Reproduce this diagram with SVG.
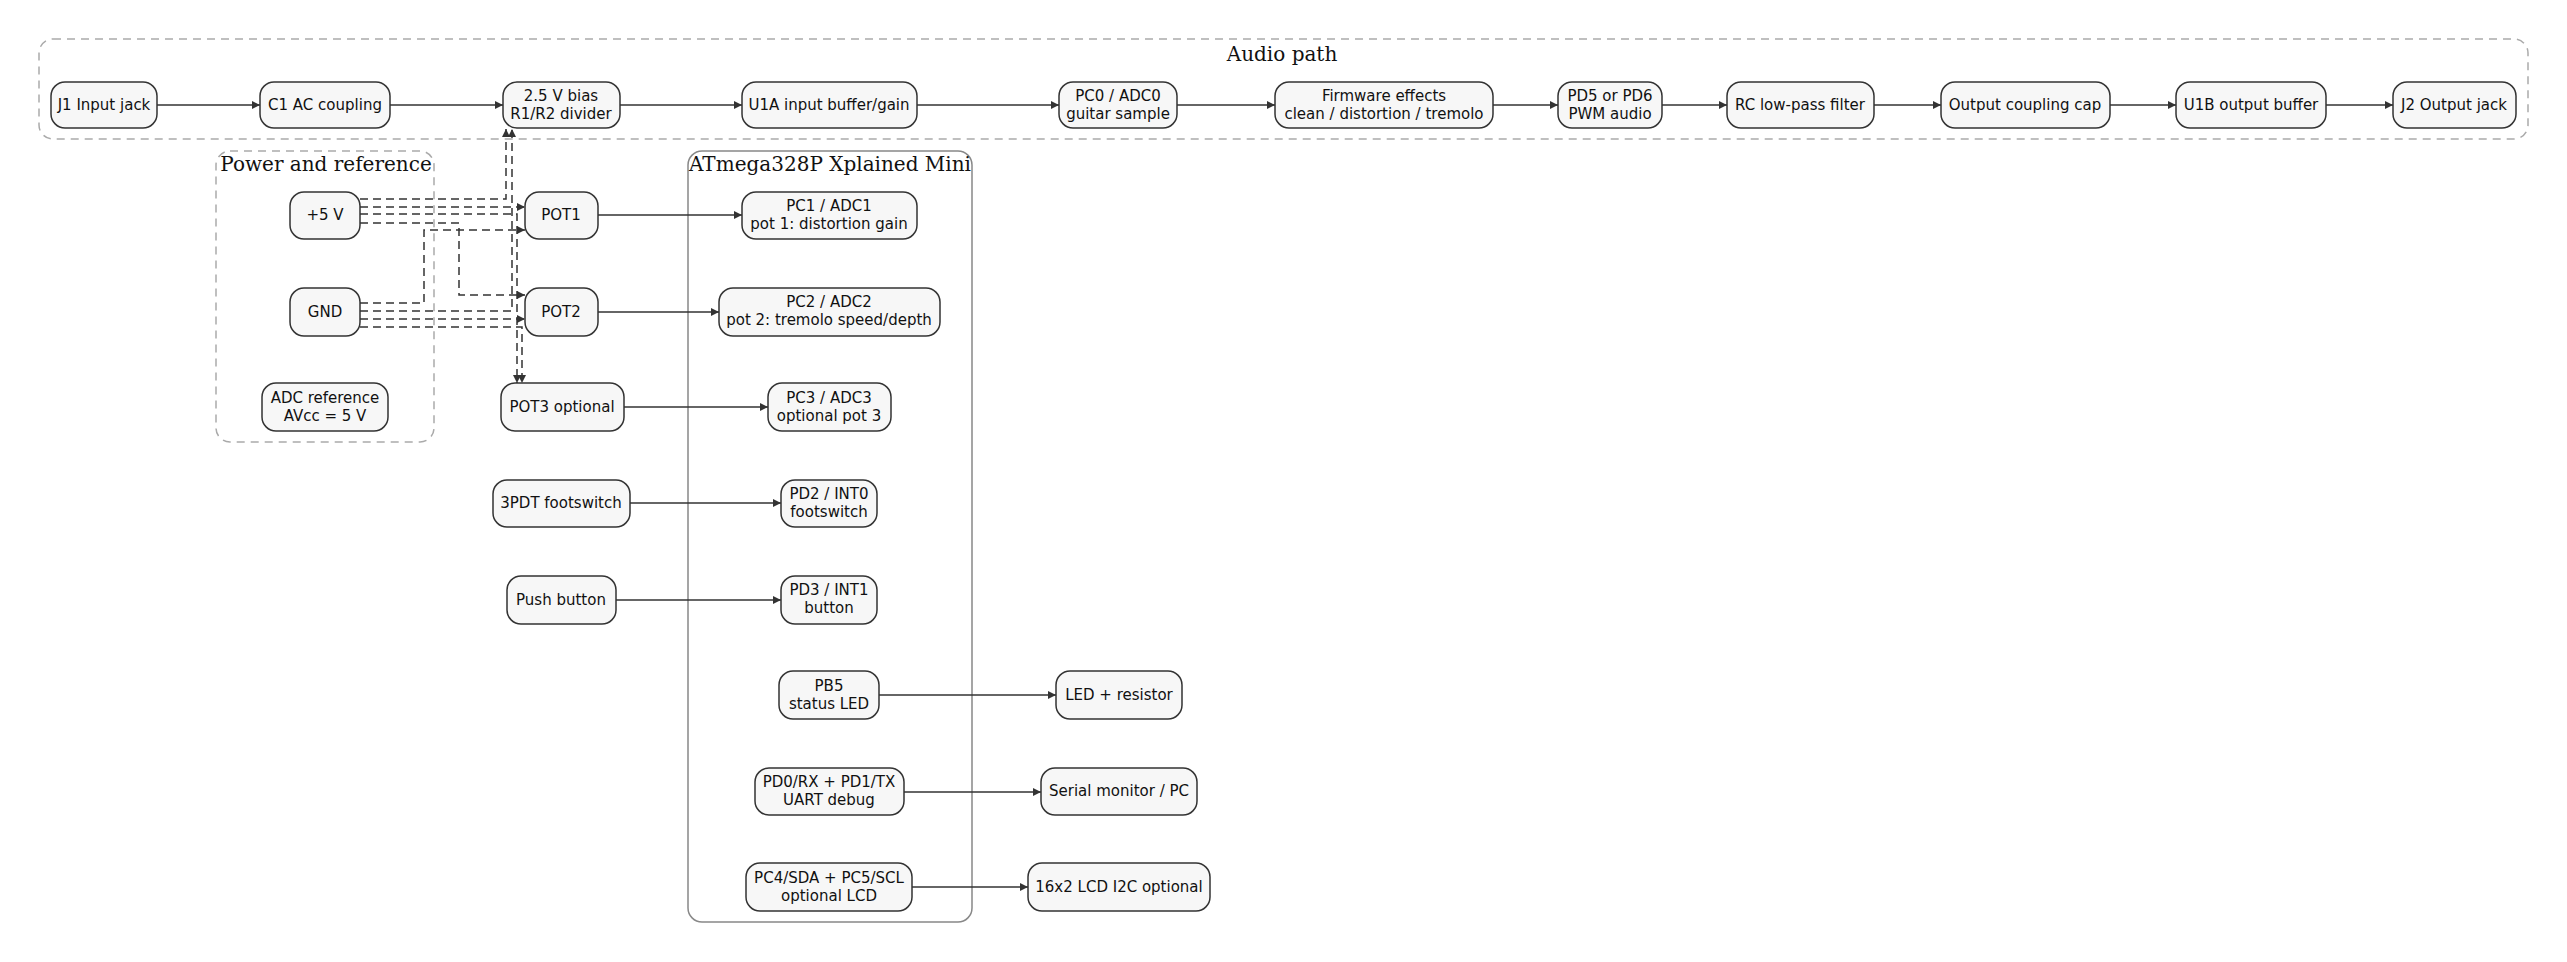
<svg xmlns="http://www.w3.org/2000/svg" width="2567" height="962" viewBox="0 0 2567 962">
<style>
.n{fill:#f7f7f7;stroke:#333;stroke-width:1.5}
.t{font-family:"DejaVu Sans",sans-serif;font-size:15px;fill:#111;text-anchor:middle}
.ct{font-family:"DejaVu Serif",serif;font-size:20px;fill:#111;text-anchor:middle}
.cl{fill:none;stroke:#aaa;stroke-width:1.5;stroke-dasharray:8,6}
.e{fill:none;stroke:#333;stroke-width:1.5;marker-end:url(#a)}
.d{fill:none;stroke:#333;stroke-width:1.5;stroke-dasharray:8,5;marker-end:url(#a)}
</style>
<defs><marker id="a" viewBox="0 0 10 10" refX="10" refY="5" markerWidth="8" markerHeight="8" markerUnits="userSpaceOnUse" orient="auto"><path d="M0,0L10,5L0,10z" fill="#333"/></marker></defs>
<rect width="2567" height="962" fill="#fff"/>
<g id="clusters">
<rect class="cl" x="39" y="39" width="2489" height="100" rx="14"/>
<text class="ct" x="1282" y="61">Audio path</text>
<rect class="cl" x="216" y="151" width="218" height="291" rx="14"/>
<text class="ct" x="326" y="171">Power and reference</text>
<rect x="688" y="151" width="284" height="771" rx="14" fill="none" stroke="#888" stroke-width="1.5"/>
<text class="ct" x="830" y="171">ATmega328P Xplained Mini</text>
</g>
<g id="edges">
<path class="e" d="M157,105H260"/><path class="e" d="M390,105H503"/><path class="e" d="M620,105H742"/><path class="e" d="M917,105H1059"/><path class="e" d="M1177,105H1275"/><path class="e" d="M1493,105H1558"/><path class="e" d="M1662,105H1727"/><path class="e" d="M1874,105H1941"/><path class="e" d="M2110,105H2176"/><path class="e" d="M2326,105H2393"/>
<path class="d" d="M360,199H506V129"/><path class="d" d="M360,311H512V129"/>
<path class="d" d="M360,207H525"/><path class="d" d="M360,303H424V230H525"/>
<path class="d" d="M360,223H459V295H525"/><path class="d" d="M360,319H525"/>
<path class="d" d="M360,214H517V383"/><path class="d" d="M360,327H522V383"/>
<path class="e" d="M598,215H742"/><path class="e" d="M598,312H719"/><path class="e" d="M624,407H768"/><path class="e" d="M630,503H781"/><path class="e" d="M616,600H781"/><path class="e" d="M879,695H1056"/><path class="e" d="M904,792H1041"/><path class="e" d="M912,887H1028"/>
</g>
<g id="j1"><rect class="n" x="51" y="82" width="106" height="46" rx="14"/><text class="t" x="104" y="110">J1 Input jack</text></g>
<g id="c1"><rect class="n" x="260" y="82" width="130" height="46" rx="14"/><text class="t" x="325" y="110">C1 AC coupling</text></g>
<g id="bias"><rect class="n" x="503" y="82" width="117" height="46" rx="14"/><text class="t" x="561" y="101">2.5 V bias</text><text class="t" x="561" y="119">R1/R2 divider</text></g>
<g id="u1a"><rect class="n" x="742" y="82" width="175" height="46" rx="14"/><text class="t" x="829" y="110">U1A input buffer/gain</text></g>
<g id="pc0"><rect class="n" x="1059" y="82" width="118" height="46" rx="14"/><text class="t" x="1118" y="101">PC0 / ADC0</text><text class="t" x="1118" y="119">guitar sample</text></g>
<g id="fw"><rect class="n" x="1275" y="82" width="218" height="46" rx="14"/><text class="t" x="1384" y="101">Firmware effects</text><text class="t" x="1384" y="119">clean / distortion / tremolo</text></g>
<g id="pwm"><rect class="n" x="1558" y="82" width="104" height="46" rx="14"/><text class="t" x="1610" y="101">PD5 or PD6</text><text class="t" x="1610" y="119">PWM audio</text></g>
<g id="rc"><rect class="n" x="1727" y="82" width="147" height="46" rx="14"/><text class="t" x="1800" y="110">RC low-pass filter</text></g>
<g id="occ"><rect class="n" x="1941" y="82" width="169" height="46" rx="14"/><text class="t" x="2025" y="110">Output coupling cap</text></g>
<g id="u1b"><rect class="n" x="2176" y="82" width="150" height="46" rx="14"/><text class="t" x="2251" y="110">U1B output buffer</text></g>
<g id="j2"><rect class="n" x="2393" y="82" width="123" height="46" rx="14"/><text class="t" x="2454" y="110">J2 Output jack</text></g>
<g id="v5"><rect class="n" x="290" y="192" width="70" height="47" rx="14"/><text class="t" x="325" y="220">+5 V</text></g>
<g id="gnd"><rect class="n" x="290" y="288" width="70" height="48" rx="14"/><text class="t" x="325" y="317">GND</text></g>
<g id="adcref"><rect class="n" x="262" y="383" width="126" height="48" rx="14"/><text class="t" x="325" y="403">ADC reference</text><text class="t" x="325" y="421">AVcc = 5 V</text></g>
<g id="pot1"><rect class="n" x="525" y="192" width="73" height="47" rx="14"/><text class="t" x="561" y="220">POT1</text></g>
<g id="pot2"><rect class="n" x="525" y="288" width="73" height="48" rx="14"/><text class="t" x="561" y="317">POT2</text></g>
<g id="pot3"><rect class="n" x="501" y="383" width="123" height="48" rx="14"/><text class="t" x="562" y="412">POT3 optional</text></g>
<g id="fs"><rect class="n" x="493" y="480" width="137" height="47" rx="14"/><text class="t" x="561" y="508">3PDT footswitch</text></g>
<g id="pb"><rect class="n" x="507" y="576" width="109" height="48" rx="14"/><text class="t" x="561" y="605">Push button</text></g>
<g id="pc1"><rect class="n" x="742" y="192" width="175" height="47" rx="14"/><text class="t" x="829" y="211">PC1 / ADC1</text><text class="t" x="829" y="229">pot 1: distortion gain</text></g>
<g id="pc2"><rect class="n" x="719" y="288" width="221" height="48" rx="14"/><text class="t" x="829" y="307">PC2 / ADC2</text><text class="t" x="829" y="325">pot 2: tremolo speed/depth</text></g>
<g id="pc3"><rect class="n" x="768" y="383" width="123" height="48" rx="14"/><text class="t" x="829" y="403">PC3 / ADC3</text><text class="t" x="829" y="421">optional pot 3</text></g>
<g id="pd2"><rect class="n" x="781" y="480" width="96" height="47" rx="14"/><text class="t" x="829" y="499">PD2 / INT0</text><text class="t" x="829" y="517">footswitch</text></g>
<g id="pd3"><rect class="n" x="781" y="576" width="96" height="48" rx="14"/><text class="t" x="829" y="595">PD3 / INT1</text><text class="t" x="829" y="613">button</text></g>
<g id="pb5"><rect class="n" x="779" y="671" width="100" height="48" rx="14"/><text class="t" x="829" y="691">PB5</text><text class="t" x="829" y="709">status LED</text></g>
<g id="uart"><rect class="n" x="755" y="768" width="149" height="47" rx="14"/><text class="t" x="829" y="787">PD0/RX + PD1/TX</text><text class="t" x="829" y="805">UART debug</text></g>
<g id="i2c"><rect class="n" x="746" y="863" width="166" height="48" rx="14"/><text class="t" x="829" y="883">PC4/SDA + PC5/SCL</text><text class="t" x="829" y="901">optional LCD</text></g>
<g id="led"><rect class="n" x="1056" y="671" width="126" height="48" rx="14"/><text class="t" x="1119" y="700">LED + resistor</text></g>
<g id="serial"><rect class="n" x="1041" y="768" width="156" height="47" rx="14"/><text class="t" x="1119" y="796">Serial monitor / PC</text></g>
<g id="lcd"><rect class="n" x="1028" y="863" width="182" height="48" rx="14"/><text class="t" x="1119" y="892">16x2 LCD I2C optional</text></g>
</svg>
